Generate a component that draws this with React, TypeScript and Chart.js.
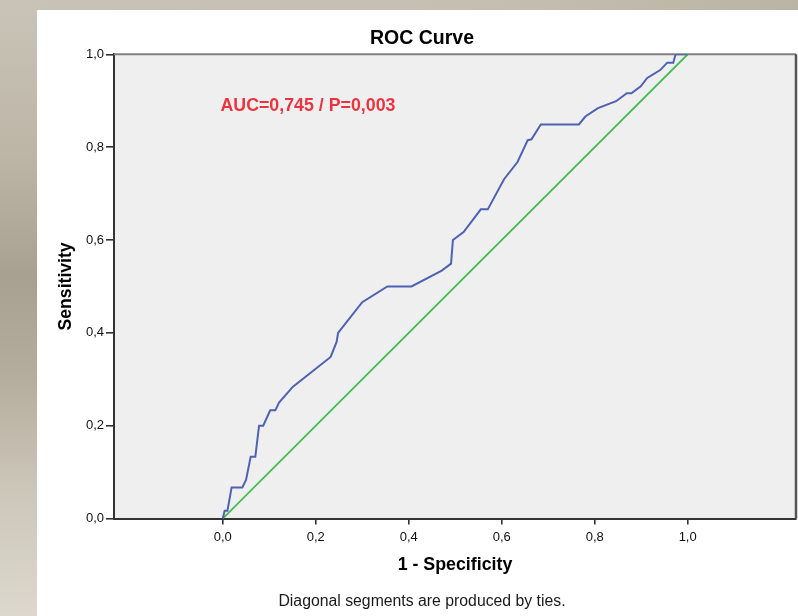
import React, { useEffect, useRef } from "react";
import { Chart, registerables } from "chart.js";

Chart.register(...registerables);

// ROC curve points (1 - specificity, sensitivity)
const FPR = [
  0, 0.004, 0.010, 0.019, 0.042, 0.050, 0.060, 0.070, 0.078, 0.087, 0.102, 0.113,
  0.121, 0.151, 0.232, 0.245, 0.248, 0.300, 0.354, 0.406, 0.471, 0.491, 0.495,
  0.518, 0.555, 0.570, 0.605, 0.634, 0.656, 0.664, 0.684, 0.766, 0.780, 0.807,
  0.846, 0.869, 0.879, 0.899, 0.913, 0.941, 0.956, 0.969, 0.974, 1.0,
];
const TPR = [
  0, 0.017, 0.017, 0.067, 0.067, 0.083, 0.133, 0.133, 0.200, 0.200, 0.233, 0.233,
  0.250, 0.284, 0.348, 0.381, 0.400, 0.466, 0.500, 0.500, 0.534, 0.549, 0.600,
  0.617, 0.666, 0.666, 0.731, 0.768, 0.815, 0.817, 0.849, 0.849, 0.866, 0.884,
  0.899, 0.916, 0.916, 0.931, 0.949, 0.966, 0.982, 0.982, 1.0, 1.0,
];
// Reference line
const DIAG_X = [0, 1];
const DIAG_Y = [0, 1];

const TICKS = [0, 0.2, 0.4, 0.6, 0.8, 1.0];
const X_MIN = -0.234;
const X_MAX = 1.233;
const Y_MIN = 0;
const Y_MAX = 1;

const TITLE = "ROC Curve";
const X_TITLE = "1 - Specificity";
const Y_TITLE = "Sensitivity";
const FOOTNOTE = "Diagonal segments are produced by ties.";
const AUC_LABEL = "AUC=0,745 / P=0,003";
const AUC_AT = { x: -0.005, y: 0.889 };

const FONT = "'Liberation Sans', Arial, Helvetica, sans-serif";
const fmt = (v: number) => v.toFixed(1).replace(".", ",");

export default function App() {
  const ref = useRef<HTMLCanvasElement | null>(null);

  useEffect(() => {
    const canvas = ref.current;
    if (!canvas) return;

    const frame = {
      id: "frame",
      beforeDraw(chart: any) {
        const { ctx, chartArea: a } = chart;
        ctx.save();
        ctx.fillStyle = "#efefef";
        ctx.fillRect(a.left, a.top, a.right - a.left, a.bottom - a.top);
        ctx.restore();
      },
      beforeDatasetsDraw(chart: any) {
        const { ctx, chartArea: a } = chart;
        ctx.save();
        ctx.strokeStyle = "#808080";
        ctx.lineWidth = 2;
        ctx.beginPath();
        ctx.moveTo(a.left, a.top);
        ctx.lineTo(a.right, a.top);
        ctx.stroke();
        ctx.strokeStyle = "#555555";
        ctx.lineWidth = 2.5;
        ctx.beginPath();
        ctx.moveTo(a.right, a.top);
        ctx.lineTo(a.right, a.bottom);
        ctx.stroke();
        ctx.restore();
      },
      afterDraw(chart: any) {
        const { ctx, scales } = chart;
        const x = scales.x.getPixelForValue(AUC_AT.x);
        const y = scales.y.getPixelForValue(AUC_AT.y);
        ctx.save();
        ctx.fillStyle = "#ec3440";
        ctx.font = `bold 17.8px ${FONT}`;
        ctx.textAlign = "left";
        ctx.textBaseline = "middle";
        ctx.fillText(AUC_LABEL, x, y);
        ctx.restore();
      },
    };

    const chart = new Chart(canvas, {
      type: "scatter",
      data: {
        datasets: [
          {
            label: "ROC",
            data: FPR.map((x, i) => ({ x, y: TPR[i] })),
            showLine: true,
            borderColor: "#4d62b3",
            borderWidth: 2,
            pointRadius: 0,
            tension: 0,
          },
          {
            label: "Reference",
            data: DIAG_X.map((x, i) => ({ x, y: DIAG_Y[i] })),
            showLine: true,
            borderColor: "#3fbd52",
            borderWidth: 1.8,
            pointRadius: 0,
          },
        ],
      },
      options: {
        responsive: false,
        animation: false,
        devicePixelRatio: 1,
        layout: { padding: { left: 11, right: 2, top: 0, bottom: 0 } },
        plugins: {
          legend: { display: false },
          tooltip: { enabled: false },
          title: {
            display: true,
            text: TITLE,
            color: "#000",
            font: { family: FONT, size: 19.5, weight: "bold" },
            padding: { top: 17.3, bottom: 3.6 },
          },
          subtitle: {
            display: true,
            position: "bottom",
            text: FOOTNOTE,
            color: "#1a1a1a",
            font: { family: FONT, size: 15.8, weight: "normal" },
            padding: { top: 1.6, bottom: 4.9 },
          },
        },
        scales: {
          x: {
            type: "linear",
            min: X_MIN,
            max: X_MAX,
            afterBuildTicks: (s: any) => {
              s.ticks = TICKS.map((value) => ({ value }));
            },
            afterFit: (s: any) => {
              s.height = 72;
            },
            ticks: {
              callback: (v: any) => fmt(Number(v)),
              color: "#111",
              font: { family: FONT, size: 13 },
              padding: 5,
              maxRotation: 0,
              autoSkip: false,
            },
            grid: { drawOnChartArea: false, tickLength: 6, color: "#333", lineWidth: 1.6 },
            border: { display: true, color: "#333", width: 2 },
            title: {
              display: true,
              text: X_TITLE,
              color: "#000",
              font: { family: FONT, size: 17.8, weight: "bold" },
              padding: { top: 0, bottom: 14.8 },
            },
          },
          y: {
            type: "linear",
            min: Y_MIN,
            max: Y_MAX,
            afterBuildTicks: (s: any) => {
              s.ticks = TICKS.map((value) => ({ value }));
            },
            afterFit: (s: any) => {
              s.width = 66;
            },
            ticks: {
              callback: (v: any) => fmt(Number(v)),
              color: "#111",
              font: { family: FONT, size: 13 },
              padding: 2,
              autoSkip: false,
            },
            grid: { drawOnChartArea: false, tickLength: 8, color: "#333", lineWidth: 1.6 },
            border: { display: true, color: "#333", width: 2 },
            title: {
              display: true,
              text: Y_TITLE,
              color: "#000",
              font: { family: FONT, size: 17.6, weight: "bold" },
              padding: { top: 7.9, bottom: 0 },
            },
          },
        },
      },
      plugins: [frame],
    } as any);

    return () => chart.destroy();
  }, []);

  return (
    <div
      style={{
        position: "fixed",
        left: 0,
        top: 0,
        width: 798,
        height: 616,
        overflow: "hidden",
        background:
          "linear-gradient(180deg, #c9c4b7 0%, #bdb6a7 25%, #a8a090 45%, #b3ac9c 60%, #cdc7ba 80%, #dcd8cd 100%)",
      }}
    >
      <div
        style={{
          position: "absolute",
          left: 0,
          top: 0,
          width: 798,
          height: 10,
          background: "linear-gradient(90deg, #c8c3b6 0%, #c4bfb1 60%, #bab4a4 100%)",
        }}
      />
      <div
        style={{
          position: "absolute",
          left: 37,
          top: 10,
          width: 761,
          height: 606,
          background: "#ffffff",
        }}
      >
        <canvas ref={ref} width={761} height={606} style={{ display: "block", width: 761, height: 606 }} />
      </div>
    </div>
  );
}
